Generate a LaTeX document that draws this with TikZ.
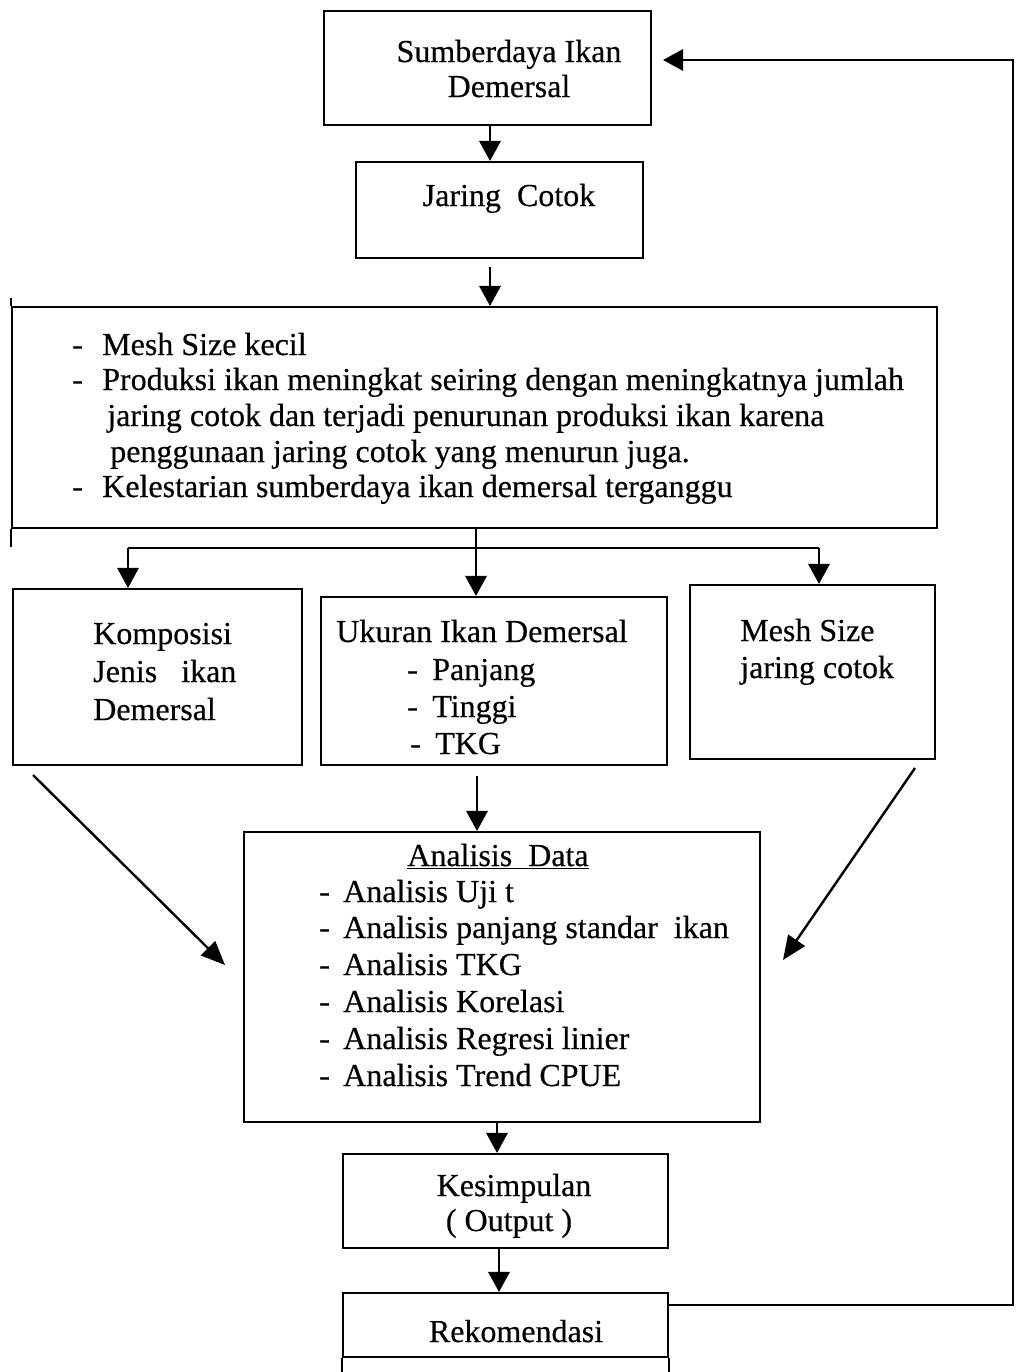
\documentclass[tikz,border=0pt]{standalone}
\usepackage{fontspec}
\setmainfont[FakeBold=0.4]{Liberation Serif}
\usetikzlibrary{arrows.meta,calc}
\begin{document}
\begin{tikzpicture}[x=0.75pt,y=-0.75pt,
  box/.style={draw, line width=1.6pt, inner sep=0pt, rectangle},
  txt/.style={inner sep=0pt, font=\fontsize{24pt}{27.5pt}\selectfont},
  ln/.style={line width=1.6pt},
  arr/.style={line width=1.6pt, -{Triangle[width=16pt,length=15pt]}},
  darr/.style={line width=1.8pt, -{Triangle[width=15pt,length=18pt]}}]
\useasboundingbox (0,0) rectangle (1017,1372);

% boxes
\node[box, minimum width=245.25pt, minimum height=85.5pt] (b1) at (487.5,68) {};
\node[box, minimum width=215.25pt, minimum height=72pt] (b2) at (499.5,210) {};
\node[box, minimum width=693.75pt, minimum height=165.75pt] (big) at (474.5,417.5) {};
\node[box, minimum width=216.75pt, minimum height=132pt] (komp) at (157.5,677) {};
\node[box, minimum width=259.5pt, minimum height=126pt] (ukur) at (494,681) {};
\node[box, minimum width=183.75pt, minimum height=130.5pt] (mesh) at (812.5,672) {};
\node[box, minimum width=387pt, minimum height=217.5pt] (anal) at (502,977) {};
\node[box, minimum width=243.75pt, minimum height=70.5pt] (kes) at (505.5,1201) {};
\node[box, minimum width=243.75pt, minimum height=48pt] (rek) at (505.5,1325) {};

% box edge extensions
\draw[box] (big.north west) -- ++(0,-8);
\draw[box] (big.south west) -- ++(0,18);
\draw[box] (rek.south west) -- ++(0,16);
\draw[box] (rek.south east) -- ++(0,16);

% texts
\node[txt, anchor=base] (t1a) at (509,62) {Sumberdaya Ikan};
\node[txt, anchor=base] (t1b) at (509,97) {Demersal};
\node[txt, anchor=base] (t2) at (509,206) {Jaring\ \ Cotok};

\node[txt, anchor=base west] (g1) at (72,355) {\makebox[22.5pt][l]{-}Mesh Size kecil};
\node[txt, anchor=base west] (g2) at (72,390) {\makebox[22.5pt][l]{-}Produksi ikan meningkat seiring dengan meningkatnya jumlah};
\node[txt, anchor=base west] (g3) at (107,426) {jaring cotok dan terjadi penurunan produksi ikan karena};
\node[txt, anchor=base west] (g4) at (110,462) {penggunaan jaring cotok yang menurun juga.};
\node[txt, anchor=base west] (g5) at (72,497) {\makebox[22.5pt][l]{-}Kelestarian sumberdaya ikan demersal terganggu};

\node[txt, anchor=base west] (k1) at (93,644) {Komposisi};
\node[txt, anchor=base west] (k2) at (93,682) {Jenis\ \ \ ikan};
\node[txt, anchor=base west] (k3) at (93,720) {Demersal};

\node[txt, anchor=base west] (u1) at (336,642) {Ukuran Ikan Demersal};
\node[txt, anchor=base west] (u2) at (407,680) {\makebox[18.75pt][l]{-}Panjang};
\node[txt, anchor=base west] (u3) at (407,717) {\makebox[18.75pt][l]{-}Tinggi};
\node[txt, anchor=base west] (u4) at (410,754) {\makebox[18.75pt][l]{-}TKG};

\node[txt, anchor=base west] (m1) at (740,641) {Mesh Size};
\node[txt, anchor=base west] (m2) at (740,678) {jaring cotok};

\node[txt, anchor=base] (a0) at (498,866) {\underline{Analisis\ \ Data}};
\node[txt, anchor=base west] (a1) at (319,902) {\makebox[18pt][l]{-}Analisis Uji t};
\node[txt, anchor=base west] (a2) at (319,938) {\makebox[18pt][l]{-}Analisis panjang standar\ \ ikan};
\node[txt, anchor=base west] (a3) at (319,975) {\makebox[18pt][l]{-}Analisis TKG};
\node[txt, anchor=base west] (a4) at (319,1012) {\makebox[18pt][l]{-}Analisis Korelasi};
\node[txt, anchor=base west] (a5) at (319,1049) {\makebox[18pt][l]{-}Analisis Regresi linier};
\node[txt, anchor=base west] (a6) at (319,1086) {\makebox[18pt][l]{-}Analisis Trend CPUE};

\node[txt, anchor=base] (s1) at (514,1196) {Kesimpulan};
\node[txt, anchor=base] (s2) at (509,1231) {( Output )};
\node[txt, anchor=base] (r1) at (516,1342) {Rekomendasi};

% reference coordinates for connectors
\coordinate (xa) at (490,0);
\coordinate (xm) at (476,0);
\coordinate (xl) at (128,0);
\coordinate (xr) at (819,0);
\coordinate (xu) at (477,0);
\coordinate (xk) at (497,0);
\coordinate (xs) at (499,0);
\coordinate (jn) at (0,548);
\coordinate (dl1) at (33,775);
\coordinate (dl2) at (225,965);
\coordinate (dr1) at (915,768);
\coordinate (dr2) at (783,960);
\coordinate (fb) at (1013,1305);
\coordinate (fbtop) at (1013,60);

% connectors
\draw[arr] (b1.south -| xa) -- (b2.north -| xa);
\draw[arr] ([yshift=-6pt]b2.south -| xa) -- (big.north -| xa);
\draw[arr] (big.south -| xm) -- (ukur.north -| xm);
\draw[ln] (jn -| xl) -- (jn -| xr);
\draw[arr] (jn -| xl) -- (komp.north -| xl);
\draw[arr] (jn -| xr) -- (mesh.north -| xr);
\draw[arr] ([yshift=-7.5pt]ukur.south -| xu) -- (anal.north -| xu);
\draw[darr] (dl1) -- (dl2);
\draw[darr] (dr1) -- (dr2);
\draw[arr] (anal.south -| xk) -- (kes.north -| xk);
\draw[arr] (kes.south -| xs) -- (rek.north -| xs);
\draw[arr] (rek.east |- fb) -- (fb) -- (fbtop) -- ([xshift=8.25pt]b1.east |- fbtop);
\end{tikzpicture}
\end{document}
